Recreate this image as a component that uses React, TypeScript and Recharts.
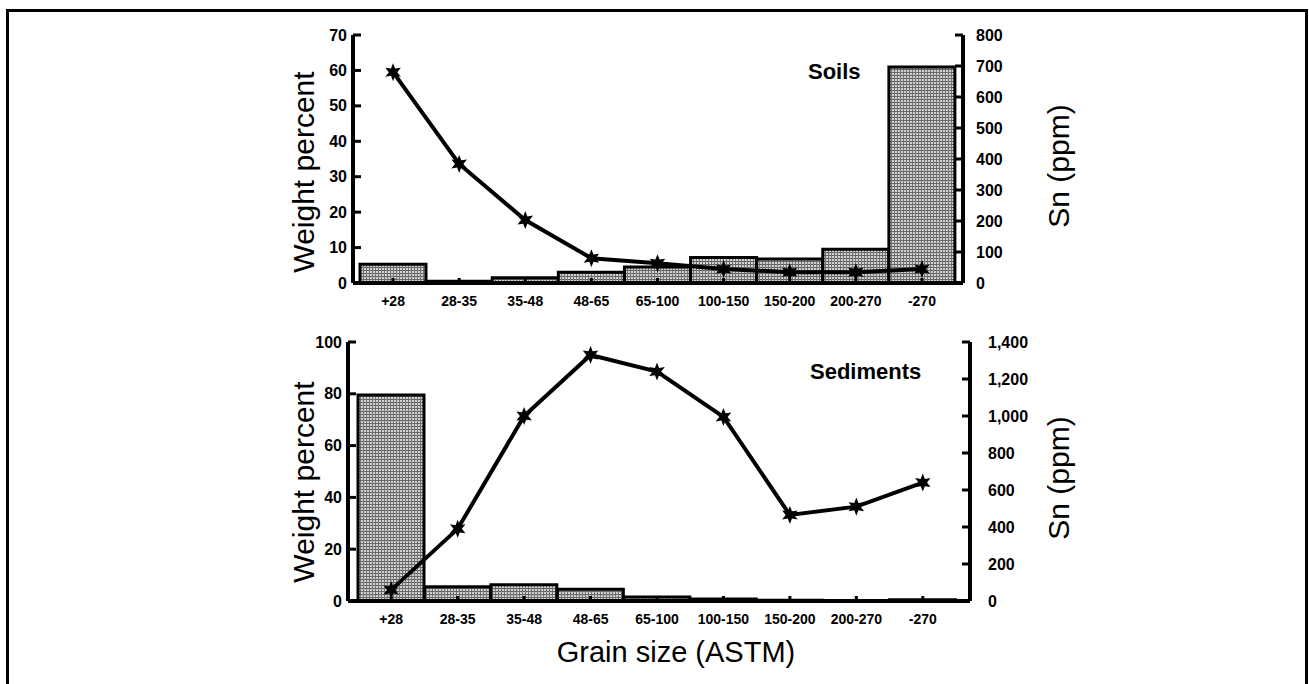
import { ComposedChart, Bar, Line, XAxis, YAxis } from 'recharts';

const grainSizes = ['+28', '28-35', '35-48', '48-65', '65-100', '100-150', '150-200', '200-270', '-270'];

const soilWeightPct = [5.3, 0.5, 1.5, 3, 4.5, 7.2, 6.8, 9.5, 61];
const soilSnPpm = [680, 384, 203, 80, 64, 45, 35, 35, 45];

const sedimentWeightPct = [79.5, 5.5, 6.3, 4.5, 1.5, 0.8, 0.3, 0.2, 0.5];
const sedimentSnPpm = [60, 390, 1000, 1330, 1240, 995, 465, 510, 640];

const soilWeightTicks = [0, 10, 20, 30, 40, 50, 60, 70];
const soilSnTicks = [0, 100, 200, 300, 400, 500, 600, 700, 800];
const sedimentWeightTicks = [0, 20, 40, 60, 80, 100];
const sedimentSnTicks = [0, 200, 400, 600, 800, 1000, 1200, 1400];

const FONT = '"Liberation Sans", Arial, Helvetica, sans-serif';
const FRAME = { stroke: '#000', strokeWidth: 4 };

interface Box { left: number; right: number; top: number; bottom: number }

// six-pointed star marker
const Star = (props: any) => {
  const { cx, cy, index } = props;
  if (cx == null || cy == null) return null;
  const pts: string[] = [];
  for (let i = 0; i < 12; i++) {
    const r = i % 2 === 0 ? 9 : 4.2;
    const a = (Math.PI / 6) * i - Math.PI / 2;
    pts.push(`${cx + r * Math.cos(a)},${cy + r * Math.sin(a)}`);
  }
  return <polygon key={`star-${index}`} points={pts.join(' ')} fill="#000" />;
};

// recharts clones the label element and overrides x/y, so use tx/ty
const AxisTitle = ({ text, tx, ty }: { text: string; tx: number; ty: number }) => (
  <text
    x={tx}
    y={ty}
    transform={`rotate(-90 ${tx} ${ty})`}
    textAnchor="middle"
    dominantBaseline="central"
    fontFamily={FONT}
    fontSize={30}
    fill="#000"
  >
    {text}
  </text>
);

interface PanelProps {
  weight: number[];
  sn: number[];
  weightTicks: number[];
  snTicks: number[];
  title: string;
  titleX: number;
  titleY: number;
  box: Box;
  height: number;
  pad: { left: number; right: number };
  leftTitle: { x: number; y: number };
  rightTitle: { x: number; y: number };
  rightLabelGap: number;
}

function Panel({
  weight, sn, weightTicks, snTicks, title, titleX, titleY, box, height, pad,
  leftTitle, rightTitle, rightLabelGap,
}: PanelProps) {
  const W = 1309;
  const AXW = 60;
  const XH = 30;
  const data = grainSizes.map((g, i) => ({ size: g, weight: weight[i], sn: sn[i] }));
  const wMax = weightTicks[weightTicks.length - 1];
  const sMax = snTicks[snTicks.length - 1];

  const leftTick = (p: any) => {
    const { y, payload } = p;
    return (
      <g>
        <line x1={box.left} x2={box.left + 8} y1={y} y2={y} stroke="#000" strokeWidth={3} />
        <text x={box.left - 6} y={y} textAnchor="end" dominantBaseline="central"
          fontFamily={FONT} fontWeight="bold" fontSize={16} fill="#000">
          {payload.value}
        </text>
      </g>
    );
  };

  const rightTick = (p: any) => {
    const { y, payload } = p;
    return (
      <g>
        <line x1={box.right} x2={box.right - 8} y1={y} y2={y} stroke="#000" strokeWidth={3} />
        <text x={box.right + rightLabelGap} y={y} textAnchor="start" dominantBaseline="central"
          fontFamily={FONT} fontWeight="bold" fontSize={16} fill="#000">
          {Number(payload.value).toLocaleString('en-US')}
        </text>
      </g>
    );
  };

  const bottomTick = (p: any) => {
    const { x, payload } = p;
    return (
      <g>
        <line x1={x} x2={x} y1={box.bottom} y2={box.bottom - 5} stroke="#000" strokeWidth={3} />
        <text x={x} y={box.bottom + 18} textAnchor="middle" dominantBaseline="central"
          fontFamily={FONT} fontWeight="bold" fontSize={14} fill="#000">
          {payload.value}
        </text>
      </g>
    );
  };

  return (
    <div style={{ position: 'relative', width: W, height }}>
      <ComposedChart
        width={W}
        height={height}
        data={data}
        barCategoryGap={0}
        margin={{ top: box.top, left: box.left - AXW, right: W - box.right - AXW, bottom: height - box.bottom - XH }}
      >
        <XAxis dataKey="size" height={XH} padding={pad} axisLine={FRAME} tickLine={false} tick={bottomTick} interval={0} />
        <XAxis xAxisId="top" dataKey="size" orientation="top" height={0} padding={pad} axisLine={FRAME} tickLine={false} tick={false} />
        <YAxis
          yAxisId="left"
          width={AXW}
          domain={[0, wMax]}
          ticks={weightTicks}
          axisLine={FRAME}
          tickLine={false}
          tick={leftTick}
          label={<AxisTitle text="Weight percent" tx={leftTitle.x} ty={leftTitle.y} />}
        />
        <YAxis
          yAxisId="right"
          orientation="right"
          width={AXW}
          domain={[0, sMax]}
          ticks={snTicks}
          axisLine={FRAME}
          tickLine={false}
          tick={rightTick}
          label={<AxisTitle text="Sn (ppm)" tx={rightTitle.x} ty={rightTitle.y} />}
        />
        <Bar yAxisId="left" dataKey="weight" fill="url(#grain-hatch)" stroke="#000" strokeWidth={3} isAnimationActive={false} />
        <Line
          yAxisId="right"
          dataKey="sn"
          type="linear"
          stroke="#000"
          strokeWidth={4}
          dot={Star}
          activeDot={false}
          isAnimationActive={false}
        />
      </ComposedChart>
      <div style={{
        position: 'absolute', left: titleX, top: titleY, fontFamily: FONT, fontWeight: 'bold',
        fontSize: 22, lineHeight: '24px', color: '#000',
      }}>
        {title}
      </div>
    </div>
  );
}

export default function App() {
  return (
    <div style={{ position: 'absolute', left: 0, top: 0, width: 1309, height: 684, background: '#fff', overflow: 'hidden' }}>
      <svg width={0} height={0} style={{ position: 'absolute' }}>
        <defs>
          <pattern id="grain-hatch" width={3} height={3} patternUnits="userSpaceOnUse">
            <rect width={3} height={3} fill="#d0d0d0" />
            <rect x={0} y={0} width={3} height={1} fill="#626262" />
            <rect x={0} y={0} width={1} height={3} fill="#727272" />
          </pattern>
        </defs>
      </svg>
      <div style={{
        position: 'absolute', left: 6, top: 9, width: 1296, height: 700,
        borderTop: '3px solid #000', borderLeft: '3px solid #000', borderRight: '3px solid #000',
      }} />
      <div style={{ position: 'absolute', left: 0, top: 0 }}>
        <Panel
          weight={soilWeightPct}
          sn={soilSnPpm}
          weightTicks={soilWeightTicks}
          snTicks={soilSnTicks}
          title="Soils"
          titleX={808}
          titleY={60}
          box={{ left: 353, right: 963, top: 35, bottom: 283 }}
          height={320}
          pad={{ left: 7, right: 8 }}
          leftTitle={{ x: 303, y: 172 }}
          rightTitle={{ x: 1058, y: 166 }}
          rightLabelGap={13}
        />
      </div>
      <div style={{ position: 'absolute', left: 0, top: 0 }}>
        <Panel
          weight={sedimentWeightPct}
          sn={sedimentSnPpm}
          weightTicks={sedimentWeightTicks}
          snTicks={sedimentSnTicks}
          title="Sediments"
          titleX={810}
          titleY={360}
          box={{ left: 348, right: 970, top: 342, bottom: 601 }}
          height={650}
          pad={{ left: 10, right: 14 }}
          leftTitle={{ x: 303, y: 482 }}
          rightTitle={{ x: 1058, y: 478 }}
          rightLabelGap={18}
        />
      </div>
      <div style={{
        position: 'absolute', left: 0, width: 1352, top: 634, textAlign: 'center',
        fontFamily: FONT, fontSize: 29, lineHeight: '36px', color: '#000',
      }}>
        Grain size (ASTM)
      </div>
    </div>
  );
}
